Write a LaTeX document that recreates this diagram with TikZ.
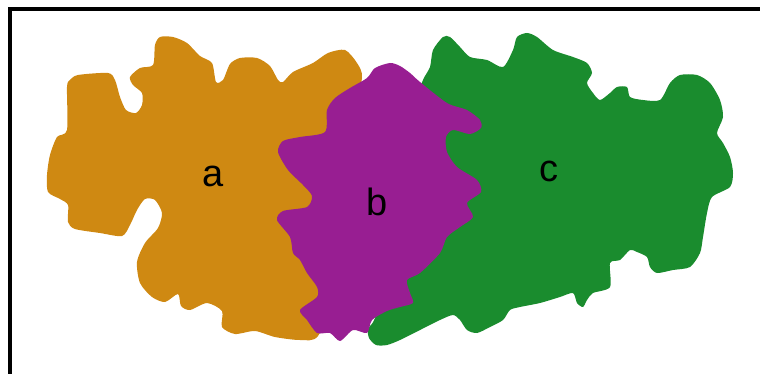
\documentclass[tikz,border=0pt]{standalone}
\usepackage{fontspec}
\setmainfont{Liberation Sans}
\definecolor{domA}{RGB}{207,137,18}
\definecolor{domB}{RGB}{152,30,146}
\definecolor{domC}{RGB}{26,140,46}
\usepackage{tikz}

\begin{document}
\begin{tikzpicture}[x=1pt, y=-1pt,
	blob/.style={smooth cycle, tension=0.45},
	lbl/.style={anchor=base, inner sep=0pt, font=\fontsize{38}{40}\selectfont}]
	\useasboundingbox (0,0) rectangle (760,374);
	\draw [line width=4.5pt] (10,374) -- (10,9) -- (760,9);
	\fill [domA] plot[blob] coordinates {(67,87) (67,130) (57,137) (50,155) (47,175) (48,192) (60,199) (68,205) (68,222) (75,229) (100,233) (122,236) (130,225) (137,210) (145,199) (155,200) (162,213) (158,228) (145,243) (137,262) (140,283) (152,297) (165,302) (178,294) (181,306) (190,310) (207,303) (222,311) (222,327) (235,334) (255,331) (275,337) (300,340) (318,336) (335,290) (345,200) (352,120) (362,78) (357,63) (345,50) (328,53) (313,63) (293,72) (283,82) (278,80) (270,66) (257,58) (240,58) (230,64) (223,80) (216,82) (212,63) (200,56) (187,43) (173,37) (160,37) (155,45) (153,65) (140,68) (130,77) (133,85) (142,93) (142,105) (136,113) (126,110) (120,97) (115,80) (108,73) (78,75) (70,80)};
	\fill [domC] plot[blob] coordinates {(423,80) (430,67) (433,50) (443,37) (450,37) (460,47) (470,57) (487,60) (503,67) (513,50) (517,37) (527,33) (537,37) (553,50) (573,57) (587,63) (592,73) (587,83) (593,93) (600,100) (610,93) (617,87) (627,87) (630,97) (643,100) (660,100) (670,83) (680,75) (697,75) (710,83) (720,100) (723,117) (717,133) (723,143) (730,157) (733,173) (730,187) (712,197) (707,213) (703,237) (700,253) (690,267) (673,270) (657,273) (650,267) (647,257) (637,252) (630,250) (620,260) (610,263) (610,287) (593,293) (587,300) (583,307) (577,303) (573,293) (560,297) (540,303) (520,307) (510,310) (503,320) (490,327) (477,333) (467,330) (460,320) (453,315) (440,320) (420,330) (400,340) (387,345) (376,345) (369,338) (368,328) (375,318) (400,250) (430,150) (418,100)};
	\fill [domB] plot[blob] coordinates {(367,78) (375,68) (390,63) (400,66) (410,73) (420,82) (447,103) (467,110) (480,120) (481,128) (470,134) (453,130) (446,137) (447,152) (457,167) (477,180) (481,192) (467,203) (473,217) (460,227) (447,237) (440,253) (420,273) (407,280) (410,293) (413,303) (400,307) (387,311) (372,320) (367,333) (353,330) (340,341) (330,333) (317,333) (307,320) (300,310) (317,297) (317,287) (307,273) (300,260) (293,253) (290,237) (277,220) (283,211) (307,207) (312,196) (303,185) (288,170) (278,152) (283,141) (300,137) (325,132) (327,110) (335,98) (350,88)};
	\node [lbl] (labA) at (213,186) {a};
	\node [lbl] (labB) at (377,215) {b};
	\node [lbl] (labC) at (549,182) {c};
\end{tikzpicture}
\end{document}
